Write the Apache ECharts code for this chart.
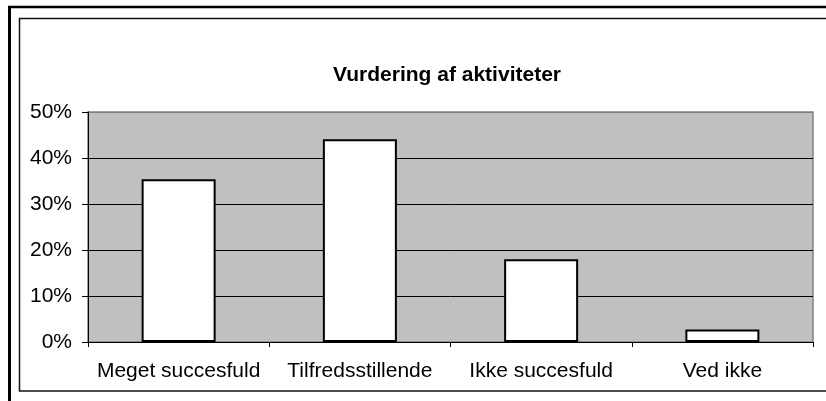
<!DOCTYPE html>
<html>
<head>
  <meta charset="utf-8">
  <script src="https://cdn.jsdelivr.net/npm/echarts@6/dist/echarts.min.js"></script>
  <style>
    html, body { margin: 0; padding: 0; background: #fff; }
  </style>
</head>
<body>
  <div id="chart" style="width: 826px; height: 401px;"></div>
  <script>
    // data
    var categories = ['Meget succesfuld', 'Tilfredsstillende', 'Ikke succesfuld', 'Ved ikke'];
    var values = [35.4, 44.1, 18.0, 2.7];
    var yTicks = [0, 10, 20, 30, 40, 50];

    var chart = echarts.init(document.getElementById('chart'));
    var font = '"Liberation Sans", Arial, sans-serif';

    var option = {
      animation: false,
      backgroundColor: '#fff',
      title: {
        text: 'Vurdering af aktiviteter',
        left: 442,
        top: 60,
        textAlign: 'center',
        textStyle: { fontFamily: font, fontSize: 21, fontWeight: 'bold', color: '#000' }
      },
      grid: {
        left: 88, right: 13, top: 112, bottom: 59,
        show: true,
        backgroundColor: '#c0c0c0',
        borderColor: '#808080',
        borderWidth: 1.5
      },
      xAxis: {
        type: 'category',
        data: categories,
        axisLine: { lineStyle: { color: '#000', width: 1 } },
        axisTick: { show: true, length: 5, lineStyle: { color: '#000' } },
        axisLabel: { fontFamily: font, fontSize: 21, color: '#000', margin: 19, interval: 0 }
      },
      yAxis: {
        type: 'value',
        min: yTicks[0],
        max: yTicks[yTicks.length - 1],
        interval: 10,
        axisLine: { show: true, lineStyle: { color: '#000', width: 1 } },
        axisTick: { show: true, length: 6, lineStyle: { color: '#000' } },
        axisLabel: { fontFamily: font, fontSize: 21, color: '#000', margin: 16, formatter: '{value}%' },
        splitLine: { show: true, lineStyle: { color: ['#000', '#000', '#000', '#000', '#000', '#808080'], width: 1 } }
      },
      series: [{
        type: 'bar',
        data: values,
        barWidth: 74,
        itemStyle: { color: '#fff', borderColor: '#000', borderWidth: 2 }
      }],
      graphic: [
        // outer frame (thick, cropped at right and bottom)
        { type: 'line', shape: { x1: 8, y1: 7, x2: 826, y2: 7 }, style: { stroke: '#000', lineWidth: 2.5 } },
        { type: 'line', shape: { x1: 9.5, y1: 6, x2: 9.5, y2: 401 }, style: { stroke: '#000', lineWidth: 3 } },
        // inner chart frame
        { type: 'rect', shape: { x: 19.5, y: 18.5, width: 820, height: 372.5 }, style: { fill: null, stroke: '#111', lineWidth: 1.5 } }
      ]
    };

    chart.setOption(option);
  </script>
</body>
</html>
